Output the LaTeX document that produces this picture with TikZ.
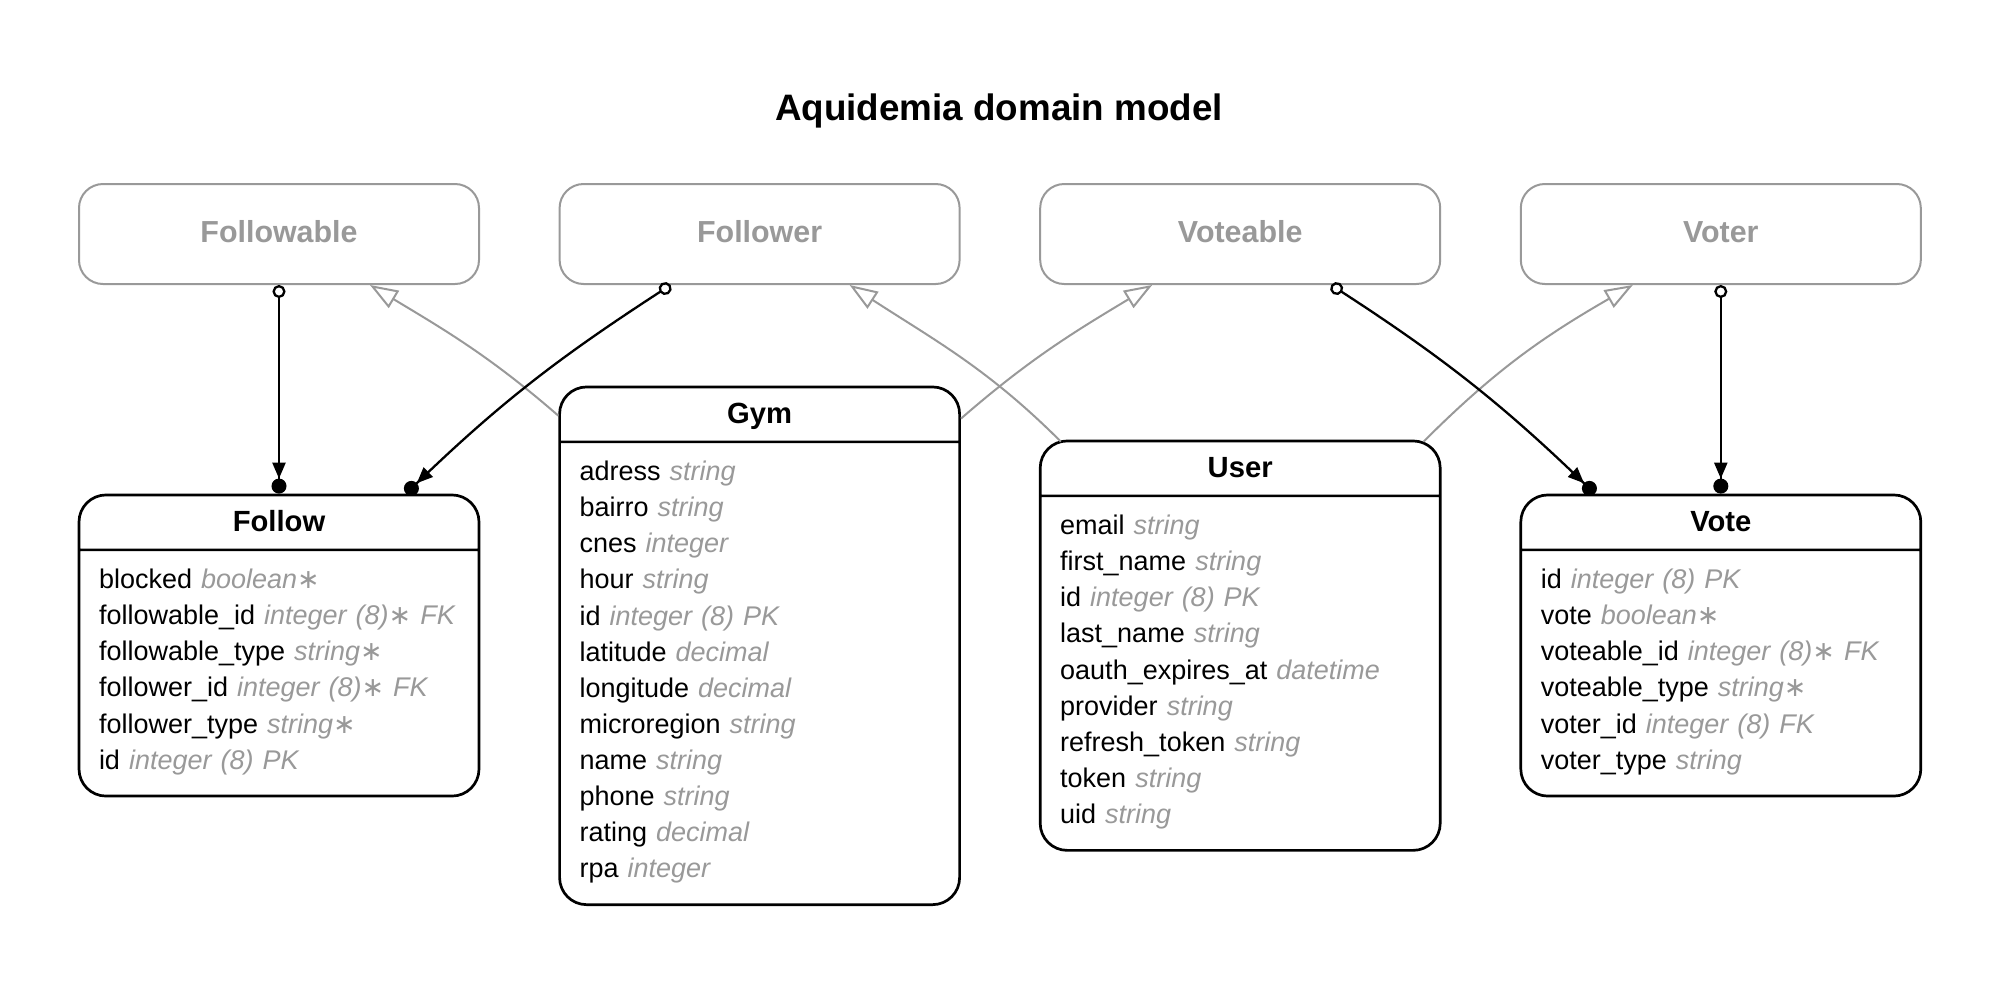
\documentclass[tikz,border=0pt]{standalone}
\usepackage{fontspec}
\setmainfont{Liberation Sans}
\newfontfamily\starfont{DejaVu Sans}
\usepackage{tikz}
\usetikzlibrary{arrows.meta,calc}
\usetikzlibrary{positioning,shapes}
\definecolor{erdgrey}{HTML}{999999}
\newcommand{\attr}[2]{#1 {\color{erdgrey}\itshape #2}}
\newcommand{\req}{{\starfont\itshape ∗}}
\newcommand{\firstrow}{\rule{0pt}{18.7pt}}
\newcommand{\lastrow}{\rule[-12.8pt]{0pt}{12.8pt}}
\newcommand{\ename}[1]{{\fontsize{14.6}{17}\selectfont\bfseries #1}\rule[-8.3pt]{0pt}{26.1pt}}
\tikzstyle{entity}=[rectangle, draw=black, fill=white, line width=1.35pt,
		rectangle split, rectangle split parts=2, text width=180pt,
		inner xsep=10pt, inner ysep=0pt, rounded corners=13.5pt, text centered,
		font=\fontsize{13.5}{18.05}\selectfont]
\tikzstyle{poly}=[rectangle, draw=erdgrey, fill=white, line width=1pt, text=erdgrey,
		minimum width=200pt, minimum height=50pt, rounded corners=12pt,
		text height=10.9pt, text depth=2.9pt, font=\fontsize{15.2}{18}\selectfont\bfseries]
\tikzstyle{rel}=[line width=1.15pt,
		arrows={Circle[open,length=6.5pt]}-{Triangle[length=8pt,width=6.5pt] Circle[length=7.5pt]}]
\tikzstyle{isa}=[line width=1pt, draw=erdgrey, -{Triangle[open,length=14pt,width=10pt]}]
\begin{document}
\begin{tikzpicture}[x=0.5pt, y=0.5pt]
    \useasboundingbox (0,0) rectangle (2003,-987);

    \node (Title) [anchor=base, font=\fontsize{18.4}{22}\selectfont\bfseries]
    		at (999,-120) {Aquidemia domain model};

    \node (Followable) [poly] at (279,-234) {Followable};
    \node (Follower) [poly, right=39.3pt of Followable] {Follower};
    \node (Voteable) [poly, right=39.3pt of Follower] {Voteable};
    \node (Voter) [poly, right=39.3pt of Voteable] {Voter};

    \node (Follow) [entity, below=104.3pt of Followable] {
      \ename{Follow}
        \nodepart[text ragged]{second}%
        \firstrow\attr{blocked}{boolean\req}\newline
        \attr{followable\_id}{integer (8)\req\ FK}\newline
        \attr{followable\_type}{string\req}\newline
        \attr{follower\_id}{integer (8)\req\ FK}\newline
        \attr{follower\_type}{string\req}\newline
        \attr{id}{integer (8) PK}\lastrow
    };

    \node (Gym) [entity, below=50.3pt of Follower] {
      \ename{Gym}
        \nodepart[text ragged]{second}%
        \firstrow\attr{adress}{string}\newline
        \attr{bairro}{string}\newline
        \attr{cnes}{integer}\newline
        \attr{hour}{string}\newline
        \attr{id}{integer (8) PK}\newline
        \attr{latitude}{decimal}\newline
        \attr{longitude}{decimal}\newline
        \attr{microregion}{string}\newline
        \attr{name}{string}\newline
        \attr{phone}{string}\newline
        \attr{rating}{decimal}\newline
        \attr{rpa}{integer}\lastrow
    };

    \node (User) [entity, below=77.3pt of Voteable] {
      \ename{User}
        \nodepart[text ragged]{second}%
        \firstrow\attr{email}{string}\newline
        \attr{first\_name}{string}\newline
        \attr{id}{integer (8) PK}\newline
        \attr{last\_name}{string}\newline
        \attr{oauth\_expires\_at}{datetime}\newline
        \attr{provider}{string}\newline
        \attr{refresh\_token}{string}\newline
        \attr{token}{string}\newline
        \attr{uid}{string}\lastrow
    };

    \node (Vote) [entity, below=104.3pt of Voter] {
      \ename{Vote}
        \nodepart[text ragged]{second}%
        \firstrow\attr{id}{integer (8) PK}\newline
        \attr{vote}{boolean\req}\newline
        \attr{voteable\_id}{integer (8)\req\ FK}\newline
        \attr{voteable\_type}{string\req}\newline
        \attr{voter\_id}{integer (8) FK}\newline
        \attr{voter\_type}{string}\lastrow
    };

    \draw [isa] ($(Gym.north west)+(0,-30)$) to [out=139, in=-31] ($(Followable.south)+(91,0)$);
    \draw [isa] ($(Gym.north east)+(0,-33)$) to [out=41, in=211] ($(Voteable.south)+(-88,0)$);
    \draw [isa] ($(User.north west)+(22,-2)$) to [out=135, in=-33] ($(Follower.south)+(90,0)$);
    \draw [isa] ($(User.north east)+(-18,-2)$) to [out=45, in=210] ($(Voter.south)+(-88,0)$);

    \draw [rel] (Followable) -- (Follow);
    \draw [rel] ($(Follower.south)+(-89,0)$) to [out=213, in=44] ($(Follow.north)+(127,0)$);
    \draw [rel] ($(Voteable.south)+(91,0)$) to [out=-33, in=136] ($(Vote.north)+(-126,0)$);
    \draw [rel] (Voter) -- (Vote);

  \end{tikzpicture}
\end{document}
